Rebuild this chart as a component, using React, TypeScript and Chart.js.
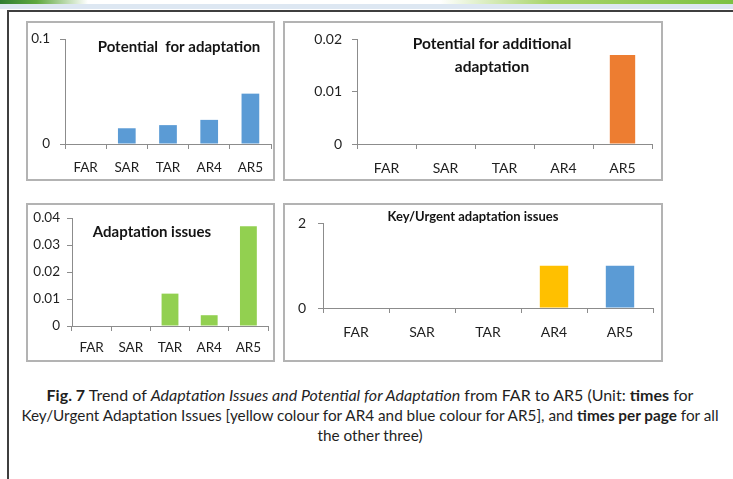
import React, { useEffect, useRef } from "react";
import { Chart, registerables } from "chart.js";

Chart.register(...registerables);

// ---------- data ----------
const categories = ["FAR", "SAR", "TAR", "AR4", "AR5"];
const potentialForAdaptation = [0, 0.015, 0.018, 0.023, 0.048];
const potentialForAdditionalAdaptation = [0, 0, 0, 0, 0.017];
const adaptationIssues = [0, 0, 0.012, 0.004, 0.037];
const keyUrgentAdaptationIssues = [0, 0, 0, 1, 1];

const p1TickValues = [0, 0.1];
const p1TickLabels = ["0", "0.1"];
const p2TickValues = [0, 0.01, 0.02];
const p2TickLabels = ["0", "0.01", "0.02"];
const p3TickValues = [0, 0.01, 0.02, 0.03, 0.04];
const p3TickLabels = ["0", "0.01", "0.02", "0.03", "0.04"];
const p4TickValues = [0, 2];
const p4TickLabels = ["0", "2"];

const BLUE = "#5b9bd5";
const ORANGE = "#ed7d31";
const GREEN = "#92d050";
const YELLOW = "#ffc000";
const keyUrgentColors = [BLUE, BLUE, BLUE, YELLOW, BLUE];

const FONT = "Lato, 'Open Sans', 'DejaVu Sans', sans-serif";
const AXIS = "#8c8c8c";
const TEXT = "#1f1f1f";

const panelTitlePlugin = {
  id: "panelTitle",
  afterDraw(chart: any, _args: any, opts: any) {
    const ctx = chart.ctx;
    ctx.save();
    ctx.font = `bold ${opts.size}px ${FONT}`;
    ctx.fillStyle = "#141414";
    ctx.textAlign = "center";
    ctx.textBaseline = "middle";
    (opts.lines as string[]).forEach((l, i) => ctx.fillText(l, opts.x, opts.y + i * opts.lineHeight));
    ctx.restore();
  },
};

type PanelProps = {
  box: { left: number; top: number; w: number; h: number };
  area: { left: number; right: number; top: number; bottom: number };
  values: number[];
  colors: string | string[];
  tickValues: number[];
  tickLabels: string[];
  yPad: number;
  xPad: number;
  tickFont: number;
  title: { lines: string[]; x: number; y: number; size: number; lineHeight: number };
};

function Panel(p: PanelProps) {
  const ref = useRef<HTMLCanvasElement>(null);
  useEffect(() => {
    const { box, area } = p;
    const chart = new Chart(ref.current as HTMLCanvasElement, {
      type: "bar",
      data: {
        labels: categories,
        datasets: [
          {
            data: p.values,
            backgroundColor: p.colors as any,
            borderWidth: 0,
            barPercentage: 0.43,
            categoryPercentage: 1,
          },
        ],
      },
      options: {
        animation: false,
        responsive: false,
        devicePixelRatio: 1,
        layout: { padding: { top: area.top, right: box.w - area.right, left: 0, bottom: 0 } },
        plugins: {
          legend: { display: false },
          title: { display: false },
          tooltip: { enabled: false },
          panelTitle: p.title,
        } as any,
        scales: {
          x: {
            afterFit: (s: any) => {
              s.height = box.h - area.bottom;
            },
            ticks: {
              padding: p.xPad,
              color: TEXT,
              font: { family: FONT, size: p.tickFont },
              maxRotation: 0,
              autoSkip: false,
            },
            grid: { offset: true, drawOnChartArea: false, drawTicks: true, tickLength: 5, color: AXIS },
            border: { display: true, color: AXIS },
          },
          y: {
            min: 0,
            max: p.tickValues[p.tickValues.length - 1],
            afterBuildTicks: (s: any) => {
              s.ticks = p.tickValues.map((v) => ({ value: v }));
            },
            afterFit: (s: any) => {
              s.width = area.left;
            },
            ticks: {
              padding: p.yPad,
              color: TEXT,
              font: { family: FONT, size: p.tickFont },
              callback: (_v: any, i: number) => p.tickLabels[i],
            },
            grid: { drawOnChartArea: false, drawTicks: true, tickLength: 5, color: AXIS },
            border: { display: true, color: AXIS },
          },
        },
      } as any,
      plugins: [panelTitlePlugin as any],
    });
    return () => chart.destroy();
  }, []);
  const { box } = p;
  return (
    <>
      <canvas
        ref={ref}
        width={box.w}
        height={box.h}
        style={{ position: "absolute", left: box.left, top: box.top, width: box.w, height: box.h }}
      />
      <div
        style={{
          position: "absolute",
          left: box.left,
          top: box.top,
          width: box.w,
          height: box.h,
          boxSizing: "border-box",
          border: "2px solid #b3b3b3",
          pointerEvents: "none",
        }}
      />
    </>
  );
}

export default function App() {
  return (
    <div
      style={{
        position: "absolute",
        left: 0,
        top: 0,
        width: 733,
        height: 479,
        overflow: "hidden",
        background: "#fff",
        fontFamily: FONT,
      }}
    >
      <div
        style={{
          position: "absolute",
          left: 0,
          top: 0,
          width: 733,
          height: 4,
          background:
            "linear-gradient(to right, #2f7d32 0%, #5fa83f 5%, rgba(255,255,255,0) 12%, rgba(255,255,255,0) 60%, #a8d46a 75%, #7cc142 100%)",
        }}
      />
      <div style={{ position: "absolute", left: 0, top: 4, width: 733, height: 5, background: "#dde7f2" }} />
      <div
        style={{
          position: "absolute",
          left: 7,
          top: 10,
          width: 726,
          height: 469,
          boxSizing: "border-box",
          borderTop: "2px solid #3f3f3f",
          borderLeft: "2px solid #3f3f3f",
        }}
      />

      <Panel
        box={{ left: 26, top: 21, w: 249, h: 160 }}
        area={{ left: 39, right: 245, top: 10, bottom: 123 }}
        values={potentialForAdaptation}
        colors={BLUE}
        tickValues={p1TickValues}
        tickLabels={p1TickLabels}
        yPad={10}
        xPad={11}
        tickFont={13.5}
        title={{ lines: ["Potential  for adaptation"], x: 153, y: 26, size: 15, lineHeight: 23 }}
      />
      <Panel
        box={{ left: 283, top: 21, w: 380, h: 160 }}
        area={{ left: 74, right: 369, top: 11, bottom: 123 }}
        values={potentialForAdditionalAdaptation}
        colors={ORANGE}
        tickValues={p2TickValues}
        tickLabels={p2TickLabels}
        yPad={10}
        xPad={11}
        tickFont={14}
        title={{ lines: ["Potential for additional", "adaptation"], x: 209, y: 23, size: 15.5, lineHeight: 23 }}
      />
      <Panel
        box={{ left: 26, top: 203, w: 249, h: 159 }}
        area={{ left: 46, right: 242, top: 11, bottom: 123 }}
        values={adaptationIssues}
        colors={GREEN}
        tickValues={p3TickValues}
        tickLabels={p3TickLabels}
        yPad={7}
        xPad={9}
        tickFont={13.5}
        title={{ lines: ["Adaptation issues"], x: 126, y: 29, size: 15, lineHeight: 23 }}
      />
      <Panel
        box={{ left: 283, top: 203, w: 380, h: 159 }}
        area={{ left: 40, right: 370, top: 13, bottom: 105 }}
        values={keyUrgentAdaptationIssues}
        colors={keyUrgentColors}
        tickValues={p4TickValues}
        tickLabels={p4TickLabels}
        yPad={12}
        xPad={11}
        tickFont={14}
        title={{ lines: ["Key/Urgent adaptation issues"], x: 190, y: 14, size: 13, lineHeight: 23 }}
      />

      <div
        style={{
          position: "absolute",
          left: 7,
          top: 385,
          width: 726,
          textAlign: "center",
          lineHeight: "20px",
          color: "#1f1f1f",
          whiteSpace: "nowrap",
        }}
      >
        <span style={{ fontSize: 16 }}>
          <b>Fig. 7</b> Trend of <i>Adaptation Issues and Potential for Adaptation</i> from FAR to AR5 (Unit:{" "}
          <b>times</b> for
        </span>
        <br />
        <span style={{ fontSize: 15.3 }}>
          Key/Urgent Adaptation Issues [yellow colour for AR4 and blue colour for AR5], and <b>times per page</b> for
          all
        </span>
        <br />
        <span style={{ fontSize: 15.3 }}>the other three)</span>
      </div>
    </div>
  );
}
